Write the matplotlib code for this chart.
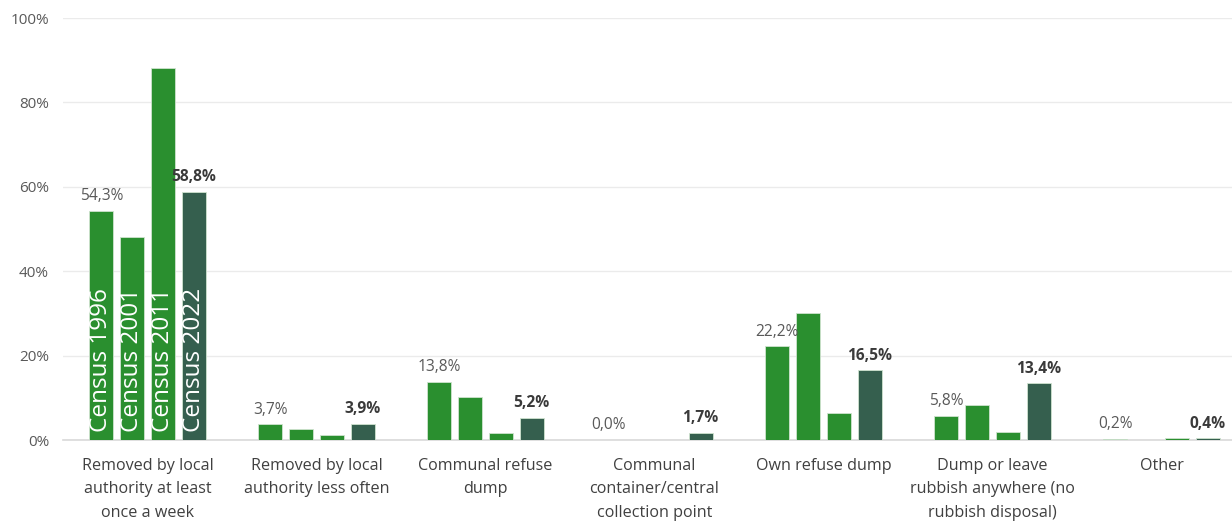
import matplotlib
matplotlib.use("Agg")
import matplotlib.pyplot as plt
import numpy as np

categories = [
    "Removed by local\nauthority at least\nonce a week",
    "Removed by local\nauthority less often",
    "Communal refuse\ndump",
    "Communal\ncontainer/central\ncollection point",
    "Own refuse dump",
    "Dump or leave\nrubbish anywhere (no\nrubbish disposal)",
    "Other",
]
series_names = ["Census 1996", "Census 2001", "Census 2011", "Census 2022"]
census_1996 = [54.3, 3.7, 13.8, 0.0, 22.2, 5.8, 0.2]
census_2001 = [48.1, 2.6, 10.2, 0.0, 30.1, 8.3, 0.0]
census_2011 = [88.1, 1.2, 1.7, 0.0, 6.4, 1.9, 0.5]
census_2022 = [58.8, 3.9, 5.2, 1.7, 16.5, 13.4, 0.4]
yticks = [0, 20, 40, 60, 80, 100]

series = [census_1996, census_2001, census_2011, census_2022]
colors = ["#2A8F2F", "#2A8F2F", "#2A8F2F", "#355F4E"]

plt.rcParams['font.family'] = ['Open Sans', 'DejaVu Sans']

fig = plt.figure(figsize=(12.32, 5.24), dpi=100)
ax = fig.add_axes([63/1232, 1-440/524, 1183/1232, 422/524])

x = np.arange(len(categories))
width = 0.142
step = 0.182
offsets = [(-1.5 + i) * step for i in range(4)]

for i, (vals, col) in enumerate(zip(series, colors)):
    ax.bar(x + offsets[i], vals, width=width, color=col,
           edgecolor="#cfe3cf", linewidth=0.6, zorder=3)

# inside labels for the first group
for i, name in enumerate(series_names):
    ax.text(x[0] + offsets[i], 2.0, name, rotation=90, ha="center", va="bottom",
            color="white", fontsize=17.5, zorder=4)

# data labels
for j in range(len(categories)):
    ax.text(x[j] + offsets[0], census_1996[j] + 1.6, f"{census_1996[j]:.1f}%".replace(".", ","),
            ha="center", va="bottom", color="#595959", fontsize=11.2, zorder=4)
    ax.text(x[j] + offsets[3], census_2022[j] + 1.6, f"{census_2022[j]:.1f}%".replace(".", ","),
            ha="center", va="bottom", color="#3a3a3a", fontsize=11.2,
            fontweight="bold", zorder=4)

ax.set_xlim(-0.5, len(categories) - 0.5)
ax.set_ylim(0, 100)
ax.set_yticks(yticks)
ax.set_yticklabels([f"{t}%" for t in yticks])
ax.set_xticks(x)
ax.set_xticklabels(categories, linespacing=1.62)
ax.tick_params(axis="both", length=0, colors="#404040")
ax.tick_params(axis="y", pad=10, labelsize=11, labelcolor="#595959")
ax.tick_params(axis="x", pad=13, labelsize=11.6)
for lbl in ax.get_xticklabels():
    lbl.set_verticalalignment("top")

ax.yaxis.grid(True, color="#EBEBEB", linewidth=1, zorder=0)
ax.set_axisbelow(True)
for s in ["top", "right", "left"]:
    ax.spines[s].set_visible(False)
ax.spines["bottom"].set_color("#D9D9D9")
ax.spines["bottom"].set_linewidth(1.2)

fig.savefig("out.png", dpi=100)
